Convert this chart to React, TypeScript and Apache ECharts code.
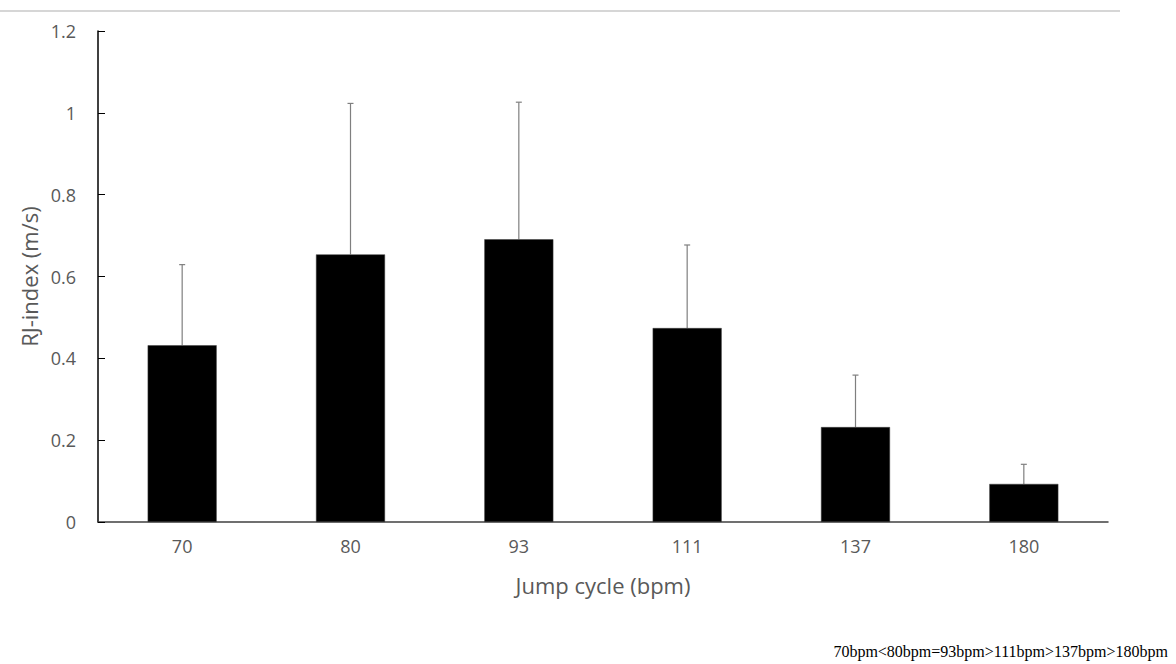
import React, { useEffect, useRef } from "react";
import * as echarts from "echarts";

const categories = ["70", "80", "93", "111", "137", "180"];
const means = [0.432, 0.654, 0.691, 0.474, 0.232, 0.093];
const sds = [0.197, 0.369, 0.335, 0.203, 0.127, 0.048];
const yTicks = { min: 0, max: 1.2, interval: 0.2 };
const xName = "Jump cycle (bpm)";
const yName = "RJ-index (m/s)";
const note = "70bpm<80bpm=93bpm>111bpm>137bpm>180bpm";

const FONT = "'Open Sans', 'Noto Sans', sans-serif";

export default function App() {
  const ref = useRef<HTMLDivElement>(null);
  useEffect(() => {
    if (!ref.current) return;
    const chart = echarts.init(ref.current, null, { renderer: "svg" });
    const errData = means.map((m, i) => [i, m, m + sds[i]]);
    chart.setOption({
      animation: false,
      backgroundColor: "#ffffff",
      grid: { left: 98, right: 68, top: 31, bottom: 142 },
      xAxis: {
        type: "category",
        data: categories,
        name: xName,
        nameLocation: "middle",
        nameGap: 52,
        nameTextStyle: { fontFamily: FONT, fontSize: 22, color: "#595959" },
        axisLine: { lineStyle: { color: "#404040", width: 1.5 } },
        axisTick: { show: false },
        axisLabel: { fontFamily: FONT, fontSize: 18, color: "#595959", margin: 15 },
      },
      yAxis: {
        type: "value",
        min: yTicks.min,
        max: yTicks.max,
        interval: yTicks.interval,
        name: yName,
        nameLocation: "middle",
        nameGap: 52,
        nameTextStyle: { fontFamily: FONT, fontSize: 22, color: "#595959" },
        axisLine: { show: true, lineStyle: { color: "#000000", width: 1.5 } },
        axisTick: { show: true, inside: true, length: 7, lineStyle: { color: "#000000", width: 1 } },
        splitLine: { show: false },
        axisLabel: {
          fontFamily: FONT,
          fontSize: 18,
          color: "#595959",
          margin: 22,
          formatter: (v: number) => String(Math.round(v * 10) / 10),
        },
      },
      series: [
        {
          type: "bar",
          data: means,
          barWidth: "41%",
          itemStyle: { color: "#000000", borderColor: "#404040", borderWidth: 0.5 },
        },
        {
          type: "custom",
          data: errData,
          z: 1,
          renderItem: (params: any, api: any) => {
            const i = api.value(0);
            const lo = api.coord([i, api.value(1)]);
            const hi = api.coord([i, api.value(2)]);
            const half = 3;
            const style = { stroke: "#7f7f7f", lineWidth: 1.2 };
            return {
              type: "group",
              children: [
                { type: "line", shape: { x1: lo[0], y1: lo[1], x2: hi[0], y2: hi[1] }, style },
                { type: "line", shape: { x1: hi[0] - half, y1: hi[1], x2: hi[0] + half, y2: hi[1] }, style },
              ],
            };
          },
        },
      ],
      graphic: [
        {
          type: "line",
          shape: { x1: 0, y1: 11, x2: 1120, y2: 11 },
          style: { stroke: "#c8c8c8", lineWidth: 1.5 },
        },
        {
          type: "text",
          right: 8,
          top: 643,
          style: {
            text: note,
            font: "16px 'Liberation Serif', 'DejaVu Serif', serif",
            fill: "#000000",
          },
        },
      ],
    });
    return () => chart.dispose();
  }, []);
  return <div ref={ref} style={{ width: 1176, height: 664, position: "absolute", left: 0, top: 0 }} />;
}
